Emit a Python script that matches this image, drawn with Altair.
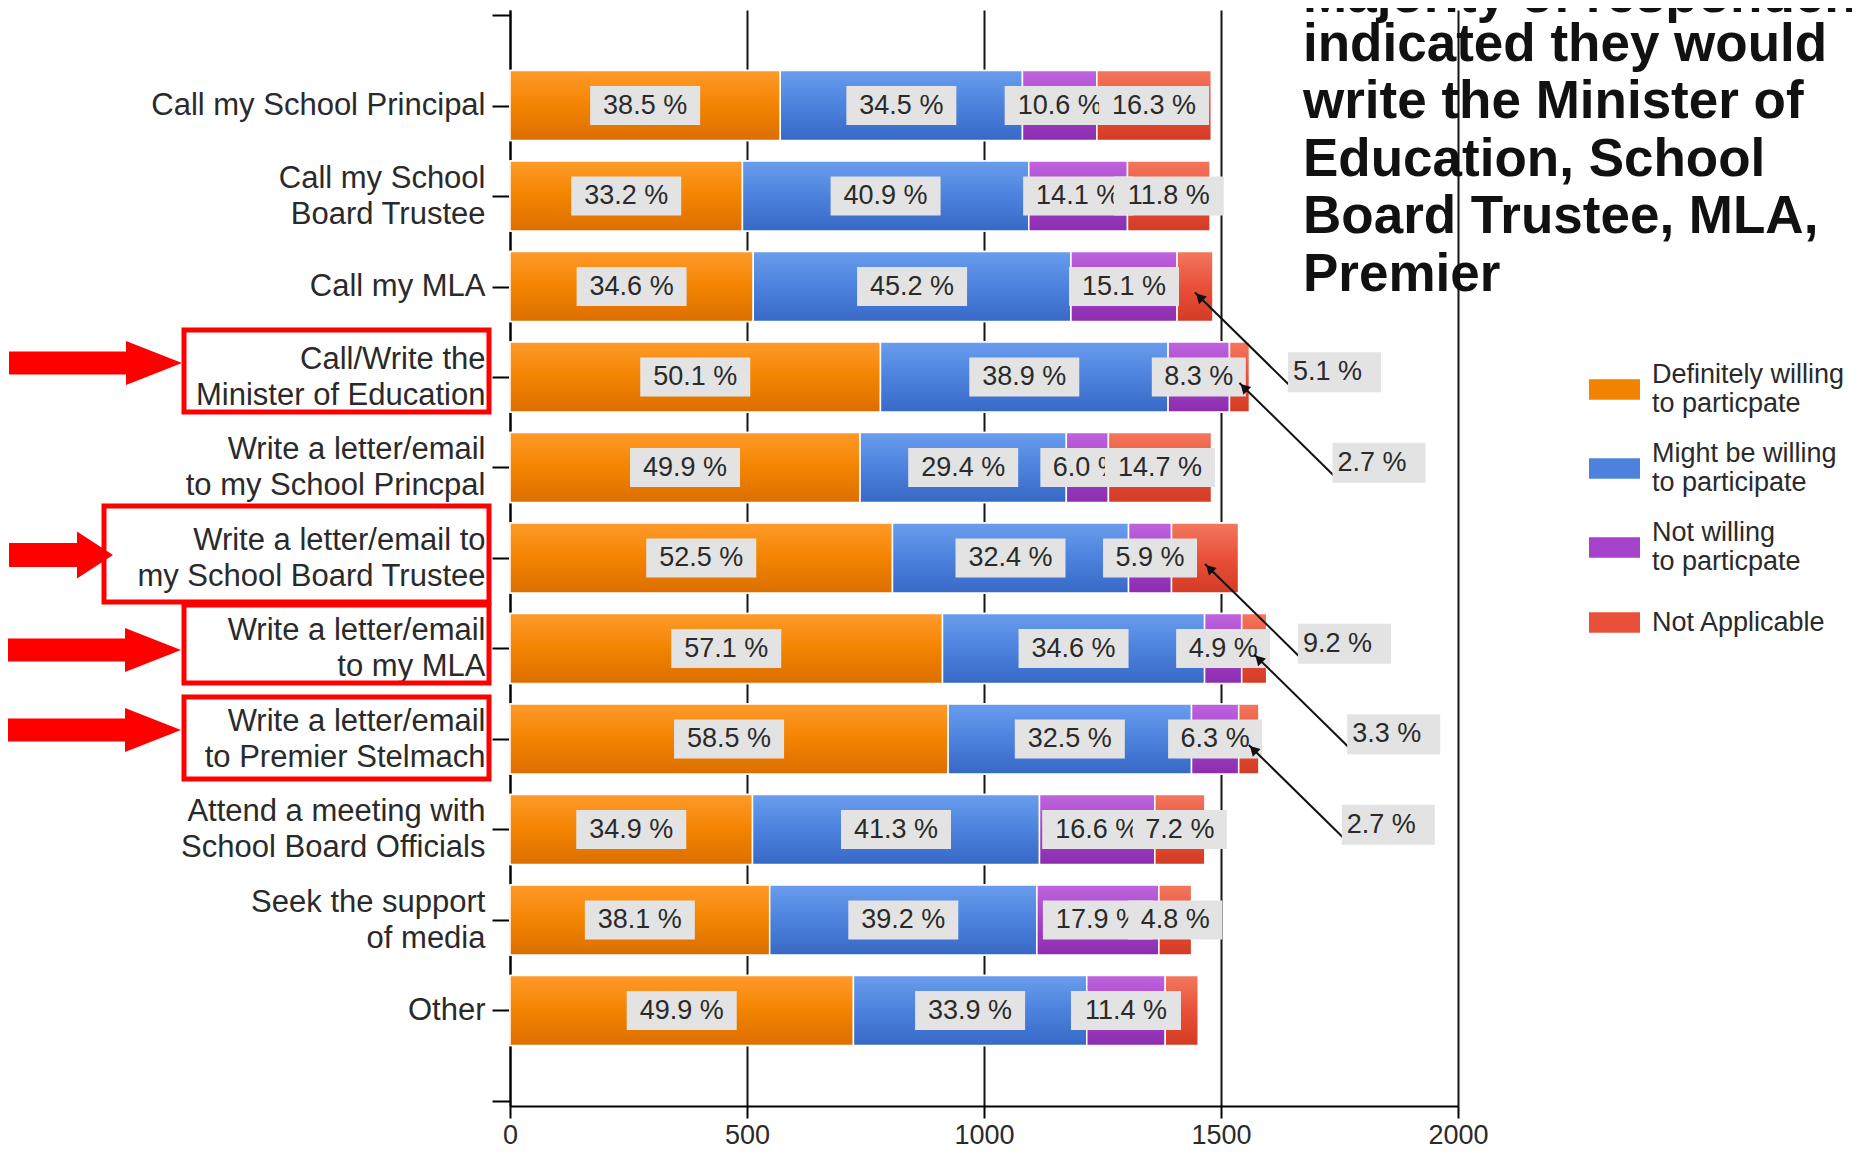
import json
import pandas as pd
import altair as alt

# ---------------- data ----------------
categories = [
    "Call my School Principal",
    "Call my School|Board Trustee",
    "Call my MLA",
    "Call/Write the|Minister of Education",
    "Write a letter/email|to my School Princpal",
    "Write a letter/email to|my School Board Trustee",
    "Write a letter/email|to my MLA",
    "Write a letter/email|to Premier Stelmach",
    "Attend a meeting with|School Board Officials",
    "Seek the support|of media",
    "Other",
]
series_names = [
    "Definitely willing|to particpate",
    "Might be willing|to participate",
    "Not willing|to particpate",
    "Not Applicable",
]
totals = [1481, 1477, 1483, 1560, 1480, 1537, 1598, 1580, 1466, 1438, 1452]
pct_definitely = [38.5, 33.2, 34.6, 50.1, 49.9, 52.5, 57.1, 58.5, 34.9, 38.1, 49.9]
pct_might = [34.5, 40.9, 45.2, 38.9, 29.4, 32.4, 34.6, 32.5, 41.3, 39.2, 33.9]
pct_not = [10.6, 14.1, 15.1, 8.3, 6.0, 5.9, 4.9, 6.3, 16.6, 17.9, 11.4]
pct_na = [16.3, 11.8, 5.1, 2.7, 14.7, 9.2, 3.3, 2.7, 7.2, 4.8, 4.8]
na_label_mode = ["in", "in", "callout", "callout", "in", "callout",
                 "callout", "callout", "in", "in", "none"]
x_ticks = [0, 500, 1000, 1500, 2000]
title_lines = [
    "Majority of respondents",
    "indicated they would",
    "write the Minister of",
    "Education, School",
    "Board Trustee, MLA,",
    "Premier",
]

# ---------------- styles / layout ----------------
PLOT_W, PLOT_H = 948, 1096
N_ROWS = len(categories)
ROW_PX = PLOT_H / (N_ROWS + 1)
X_MAX = 2000
U = X_MAX / PLOT_W  # data units per pixel
FONT = "Liberation Sans"
TEXT_COLOR = "#2a2a2a"
BOX_COLOR = "#E3E3E3"
solid_colors = ["#F28300", "#4C82DD", "#A443C9", "#E8503A"]
gradient_stops = [
    ["#FF9A2A", "#F38400", "#DC6E00"],
    ["#6A9DEE", "#4C82DD", "#3868C6"],
    ["#C064DE", "#A443C9", "#8C2DAE"],
    ["#F4775E", "#E8503A", "#D43B24"],
]

pcts = [pct_definitely, pct_might, pct_not, pct_na]
bar_rows, label_rows, callout_rows = [], [], []
for i in range(N_ROWS):
    pos = i + 1
    start = 0.0
    for s, name in enumerate(series_names):
        p = pcts[s][i]
        end = start + p / 100.0 * totals[i]
        bar_rows.append(dict(pos=pos, series=name, sidx=s, x0=start, x1=end))
        text = f"{p:.1f} %"
        cx = (start + end) / 2
        if s < 3 or na_label_mode[i] == "in":
            w = 16 * len(text) + 14
            label_rows.append(dict(pos=pos, grp=0 if s < 3 else 1, text=text, cx=cx,
                                   bx0=cx - w / 2 * U, bx1=cx + w / 2 * U))
        elif na_label_mode[i] == "callout":
            box_left = cx + 93 * U
            box_y = pos + 86.5 / ROW_PX
            callout_rows.append(dict(
                text=text,
                tx=cx, ty=pos + 6 / ROW_PX,
                lx=box_left + 1 * U, ly=box_y + 12.6 / ROW_PX,
                hx=cx + 4.5 * U, hy=pos + 6 / ROW_PX + 4.5 / ROW_PX,
                bx0=box_left, bx1=box_left + 93 * U, by=box_y,
                textx=box_left + 5 * U,
            ))
        start = end

bars = pd.DataFrame(bar_rows)
labels = pd.DataFrame(label_rows)
callouts = pd.DataFrame(callout_rows)

xscale = alt.Scale(domain=[0, X_MAX], nice=False, zero=True)
yscale = alt.Scale(domain=[0, N_ROWS + 1], reverse=True, nice=False, zero=False)

two_line_pos = [i + 1 for i, c in enumerate(categories) if "|" in c]
label_expr = (
    f"datum.value >= 1 && datum.value <= {N_ROWS} ? "
    f"split({json.dumps(categories)}[datum.value - 1], '|') : ''"
)
xaxis = alt.Axis(values=x_ticks, format="d", grid=True, gridColor="#151515", gridWidth=2,
                 domainColor="#000000", domainWidth=2, tickColor="#000000",
                 tickWidth=2, tickSize=12, labelFont=FONT, labelFontSize=27,
                 labelColor=TEXT_COLOR, labelPadding=4, labelOverlap=False,
                 labelFlush=False, title=None)
yaxis = alt.Axis(values=list(range(0, N_ROWS + 2)), grid=False,
                 domainColor="#000000", domainWidth=2, tickColor="#000000",
                 tickWidth=2, tickSize=18, labelFont=FONT, labelFontSize=31,
                 labelLineHeight=36, labelColor=TEXT_COLOR, labelPadding=7,
                 labelLimit=1000, labelOverlap=False, labelExpr=label_expr,
                 labelOffset=alt.condition(
                     f"indexof({json.dumps(two_line_pos)}, datum.value) >= 0",
                     alt.value(-18), alt.value(0)),
                 title=None)


def X(field):
    return alt.X(f"{field}:Q", scale=xscale, axis=xaxis, title=None)


def X2(field):
    return alt.X2(f"{field}:Q")


def Y(field):
    return alt.Y(f"{field}:Q", scale=yscale, axis=yaxis, title=None)


layers = []

# base bars (carry the legend)
base = alt.Chart(bars).mark_bar(orient="horizontal", size=70, stroke="#FFFFFF",
                                strokeWidth=1.5).encode(
    x=X("x0"), x2=X2("x1"), y=Y("pos"),
    color=alt.Color("series:N", scale=alt.Scale(domain=series_names, range=solid_colors),
                    legend=alt.Legend(orient="none", legendX=1079, legendY=354, title=None,
                                      symbolType="M-1,-0.4H1V0.4H-1Z", symbolSize=2601,
                                      symbolStrokeWidth=0, symbolOpacity=1,
                                      labelFont=FONT, labelFontSize=27,
                                      labelColor=TEXT_COLOR,
                                      labelExpr="split(datum.label, '|')",
                                      labelBaseline={"expr": "indexof(datum.label, '|') >= 0 ? 'line-bottom' : 'middle'"},
                                      labelLimit=400, rowPadding=22, labelOffset=12,
                                      padding=0)),
)
layers.append(base)

# gradient overlays per series
for s, stops in enumerate(gradient_stops):
    grad = alt.Gradient(gradient="linear", x1=0, x2=0, y1=0, y2=1,
                        stops=[alt.GradientStop(offset=0, color=stops[0]),
                               alt.GradientStop(offset=0.5, color=stops[1]),
                               alt.GradientStop(offset=1, color=stops[2])])
    layers.append(
        alt.Chart(bars).transform_filter(alt.datum.sidx == s)
        .mark_bar(orient="horizontal", size=70, fill=grad, stroke="#FFFFFF", strokeWidth=1.5)
        .encode(x=X("x0"), x2=X2("x1"), y=Y("pos"))
    )

# in-bar labels: first the three willing series, then Not Applicable on top
for g in (0, 1):
    layers.append(
        alt.Chart(labels).transform_filter(alt.datum.grp == g)
        .mark_bar(orient="horizontal", size=39, color=BOX_COLOR)
        .encode(x=X("bx0"), x2=X2("bx1"), y=Y("pos"))
    )
    layers.append(
        alt.Chart(labels).transform_filter(alt.datum.grp == g)
        .mark_text(font=FONT, fontSize=27, color=TEXT_COLOR, align="center", baseline="middle")
        .encode(x=X("cx"), y=Y("pos"), text="text:N")
    )

# callouts for small Not Applicable segments
layers.append(
    alt.Chart(callouts).mark_rule(color="#111111", strokeWidth=2)
    .encode(x=X("tx"), x2=X2("lx"), y=Y("ty"), y2=alt.Y2("ly:Q"))
)
layers.append(
    alt.Chart(callouts).mark_point(shape="triangle-up", angle=315, size=120, filled=True,
                                   color="#111111", opacity=1)
    .encode(x=X("hx"), y=Y("hy"))
)
layers.append(
    alt.Chart(callouts).mark_bar(orient="horizontal", size=40, color=BOX_COLOR)
    .encode(x=X("bx0"), x2=X2("bx1"), y=Y("by"))
)
layers.append(
    alt.Chart(callouts).mark_text(font=FONT, fontSize=27, color=TEXT_COLOR, align="left",
                                  baseline="middle")
    .encode(x=X("textx"), y=Y("by"), text="text:N")
)

# headline annotation (first line runs off the top edge, as in the reference)
one = pd.DataFrame({"k": [0]})
layers.append(
    alt.Chart(one).mark_text(font=FONT, fontSize=53, fontWeight="bold", color="#111111",
                             align="left", baseline="alphabetic")
    .encode(x=alt.value(793), y=alt.value(2), text=alt.value(title_lines[0]))
)
layers.append(
    alt.Chart(one).mark_text(font=FONT, fontSize=53, fontWeight="bold", color="#111111",
                             align="left", baseline="alphabetic", lineHeight=57.5)
    .encode(x=alt.value(793), y=alt.value(50.5), text=alt.value(title_lines[1:]))
)

# red highlight boxes and arrows (overlay annotations, pixel positions)
highlight_boxes = [(-326, -21, 320, 402), (-406, -21, 496, 592),
                   (-326, -21, 595, 673), (-326, -21, 687, 769)]
for (bx0, bx1, by0, by1) in highlight_boxes:
    layers.append(
        alt.Chart(one).mark_rect(fillOpacity=0, stroke="#FF0000", strokeWidth=5)
        .encode(x=alt.value(bx0), x2=alt.value(bx1), y=alt.value(by0), y2=alt.value(by1))
    )
long_arrow = "M-173,-11.5L-56,-11.5L-56,-22L0,0L-56,22L-56,11.5L-173,11.5Z"
short_arrow = "M-104,-12L-36,-12L-36,-23.5L0,0L-36,23.5L-36,12L-104,12Z"
for (ax, ay, shp) in [(-328, 353, long_arrow), (-397, 545, short_arrow),
                      (-329, 640, long_arrow), (-329, 720, long_arrow)]:
    layers.append(
        alt.Chart(one).mark_point(shape=shp, size=4, filled=True, color="#FF0000",
                                  opacity=1, strokeWidth=0)
        .encode(x=alt.value(ax), y=alt.value(ay))
    )

chart = (
    alt.layer(*layers)
    .properties(width=PLOT_W, height=PLOT_H,
                autosize=alt.AutoSizeParams(type="none"),
                padding={"left": 502, "top": 2, "right": 394, "bottom": 49},
                background="#FFFFFF")
    .configure_view(stroke=None)
)

chart.save("out.html", embed_options={"renderer": "svg", "actions": False})
